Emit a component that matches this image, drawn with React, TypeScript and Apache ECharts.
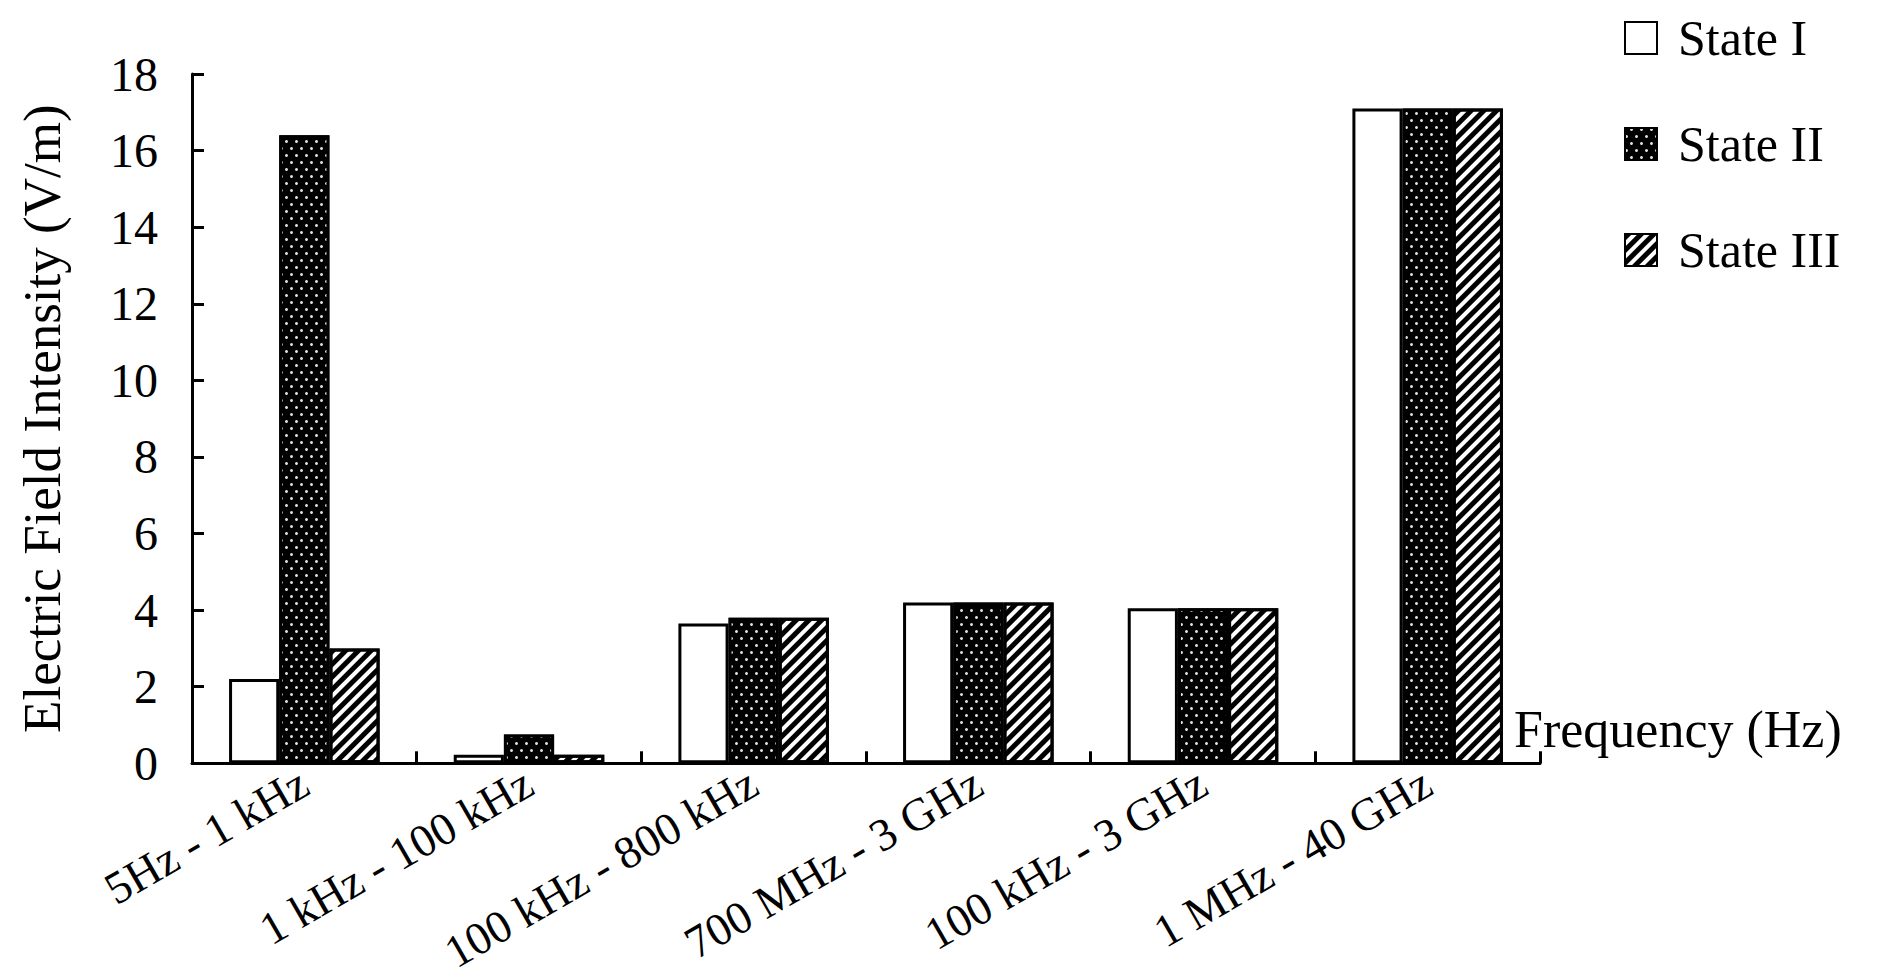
import React, { useEffect, useRef } from 'react';
import * as echarts from 'echarts';

const categories = [
  '5Hz - 1 kHz',
  '1 kHz - 100 kHz',
  '100 kHz - 800 kHz',
  '700 MHz - 3 GHz',
  '100 kHz - 3 GHz',
  '1 MHz - 40 GHz',
];
const stateI = [2.2, 0.22, 3.65, 4.2, 4.05, 17.1];
const stateII = [16.4, 0.75, 3.8, 4.2, 4.05, 17.1];
const stateIII = [3.0, 0.22, 3.8, 4.2, 4.05, 17.1];
const seriesNames = ['State I', 'State II', 'State III'];
const yMin = 0;
const yMax = 18;
const yStep = 2;

const FONT = '"Liberation Serif", "Times New Roman", serif';

export default function App() {
  const ref = useRef<HTMLDivElement>(null);
  useEffect(() => {
    if (!ref.current) return;
    const chart = echarts.init(ref.current, null, { renderer: 'svg' });
    const border = { borderColor: '#000', borderWidth: 3 };
    chart.setOption({
      animation: false,
      backgroundColor: '#fff',
      textStyle: { fontFamily: FONT, color: '#000' },
      grid: { left: 192, right: 341, top: 74, bottom: 209, containLabel: false },
      legend: {
        orient: 'vertical',
        left: 1619,
        top: 8,
        itemWidth: 32,
        itemHeight: 32,
        itemGap: 56,
        icon: 'rect',
        textStyle: { fontFamily: FONT, fontSize: 50, color: '#000', padding: [0, 0, 0, 16] },
        data: seriesNames,
      },
      xAxis: {
        type: 'category',
        data: categories,
        name: 'Frequency (Hz)',
        nameLocation: 'end',
        nameGap: -26,
        nameTextStyle: {
          fontFamily: FONT,
          fontSize: 52,
          color: '#000',
          align: 'left',
          verticalAlign: 'bottom',
          padding: [0, 0, 8, 0],
        },
        axisLine: { lineStyle: { color: '#000', width: 3 } },
        axisTick: { show: true, inside: true, length: 12, alignWithLabel: false, interval: 0, lineStyle: { color: '#000', width: 3 } },
        axisLabel: { interval: 0, rotate: 30, margin: 16, fontFamily: FONT, fontSize: 46, color: '#000' },
        splitLine: { show: false },
      },
      yAxis: {
        type: 'value',
        min: yMin,
        max: yMax,
        interval: yStep,
        name: 'Electric Field Intensity (V/m)',
        nameLocation: 'middle',
        nameGap: 124,
        nameTextStyle: { fontFamily: FONT, fontSize: 53, color: '#000' },
        axisLine: { show: true, lineStyle: { color: '#000', width: 3 } },
        axisTick: { show: true, inside: true, length: 12, lineStyle: { color: '#000', width: 3 } },
        axisLabel: { margin: 34, fontFamily: FONT, fontSize: 48, color: '#000' },
        splitLine: { show: false },
      },
      series: [
        {
          name: seriesNames[0],
          type: 'bar',
          data: stateI,
          barGap: '0%',
          barCategoryGap: '33%',
          itemStyle: { color: '#fff', ...border },
        },
        {
          name: seriesNames[1],
          type: 'bar',
          data: stateII,
          barGap: '0%',
          barCategoryGap: '33%',
          itemStyle: {
            color: '#000',
            ...border,
            decal: {
              symbol: 'circle',
              symbolSize: 1,
              color: '#ddd',
              dashArrayX: [[3, 7], [0, 5, 3, 2]],
              dashArrayY: [3, 4],
              rotation: 0,
            },
          },
        },
        {
          name: seriesNames[2],
          type: 'bar',
          data: stateIII,
          barGap: '0%',
          barCategoryGap: '33%',
          itemStyle: {
            color: '#fff',
            ...border,
            decal: {
              symbol: 'rect',
              symbolSize: 1,
              color: '#000',
              dashArrayX: [[1, 0]],
              dashArrayY: [4.5, 3.5],
              rotation: -Math.PI / 4,
            },
          },
        },
      ],
    });
    return () => chart.dispose();
  }, []);
  return (
    <div
      ref={ref}
      style={{ position: 'fixed', left: 0, top: 0, width: 1881, height: 977 }}
    />
  );
}
